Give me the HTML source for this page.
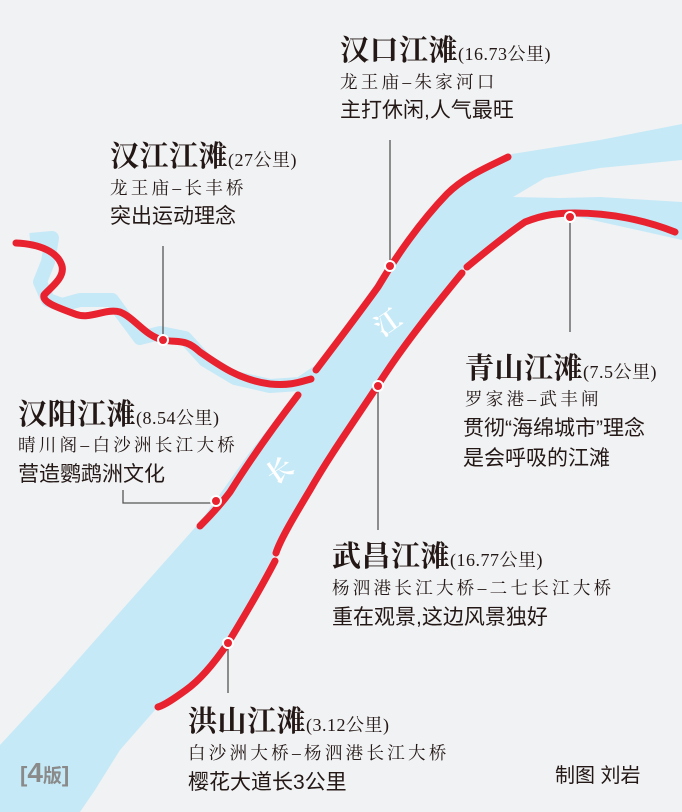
<!DOCTYPE html>
<html><head><meta charset="utf-8"><style>
html,body{margin:0;padding:0;background:#f1f2f4;}
svg{display:block}
.t{font-family:"Liberation Serif","Noto Serif CJK SC",serif;font-weight:bold;font-size:29px;fill:#231815;letter-spacing:0.5px}
.k{font-family:"Liberation Serif","Noto Serif CJK SC",serif;font-weight:normal;font-size:18px;fill:#231815;letter-spacing:0.5px}
.s{font-family:"Liberation Serif","Noto Serif CJK SC",serif;font-size:17.5px;fill:#231815;letter-spacing:3.3px}
.d{font-family:"Liberation Sans","Noto Sans CJK SC",sans-serif;font-size:21px;fill:#231815;letter-spacing:0px}
.r{fill:none;stroke:#e8222f;stroke-width:7;stroke-linecap:round;stroke-linejoin:round}
.l{stroke:#555;stroke-width:1.3;fill:none}
.dot{fill:#e8222f;stroke:#fff;stroke-width:2}
</style></head><body>
<svg width="682" height="812" viewBox="0 0 682 812" xmlns="http://www.w3.org/2000/svg">
<rect width="682" height="812" fill="#f1f2f4"/>
<path fill="#c6e9f7" d="M0,745 L60,680 L120,612 L200,522 L250,452 L300,388 L318,368 L350,322 L390,262 L430,208 L470,178 L512,154 L600,140 L682,124 L682,240 L565,214 L525,220 L465,266 L420,322 L380,385 L330,460 L300,508 L275,553 L250,600 L230,645 L190,690 L155,710 L120,750 L95,790 L80,812 L0,812 Z"/>
<path fill="#f1f2f4" d="M513,197 L545,178 L600,168 L682,160 L682,202 L600,197 L560,198 Z"/>
<path fill="none" stroke="#c6e9f7" stroke-width="14" stroke-linejoin="round" d="M30,240 L52,238 L48,262 L40,282 L48,300 L62,305 L80,300 L112,300 L125,318 L140,338 L160,333 L185,338 L205,360 L235,378 L270,386 L300,384 L318,372"/>
<path class="r" d="M16,243 C40,244 58,252 62,266 C65,278 50,288 44,295 C42,302 56,307 75,314 C90,320 105,308 120,312 C135,318 145,336 163,340 C178,343 185,338 200,352 C220,366 240,380 270,384 C290,386 300,382 311,379"/>
<path class="r" d="M316,370 C335,345 360,312 378,287 C395,258 420,222 447,194 C465,176 490,166 508,157"/>
<path class="r" d="M298,395 C275,425 250,460 230,492 C218,508 208,518 200,526"/>
<path class="r" d="M467,267 C490,248 510,232 525,222 C545,214 560,213 575,213 C610,213 645,220 675,232"/>
<path class="r" d="M462,273 C430,312 400,350 378,385 C355,420 330,455 310,490 C295,515 280,540 276,553"/>
<path class="r" d="M275,561 C260,590 245,615 228,643 C215,662 200,680 186,690 C175,698 165,705 158,707"/>
<line class="l" x1="390" y1="140" x2="390" y2="266"/>
<line class="l" x1="163" y1="246" x2="163" y2="340"/>
<line class="l" x1="570" y1="217" x2="570" y2="332"/>
<polyline class="l" points="123,490 123,503 216,503"/>
<line class="l" x1="378" y1="387" x2="378" y2="530"/>
<line class="l" x1="228" y1="643" x2="228" y2="693"/>
<circle class="dot" cx="390" cy="266" r="5"/>
<circle class="dot" cx="163" cy="340" r="5"/>
<circle class="dot" cx="570" cy="217" r="5"/>
<circle class="dot" cx="216" cy="501" r="5"/>
<circle class="dot" cx="378" cy="386" r="5"/>
<circle class="dot" cx="228" cy="643" r="5"/>
<text transform="translate(393,330) rotate(-35)" font-family="Liberation Serif,Noto Serif CJK SC,serif" font-weight="bold" font-size="26" fill="#fff" text-anchor="middle">江</text>
<text transform="translate(285,478) rotate(-35)" font-family="Liberation Serif,Noto Serif CJK SC,serif" font-weight="bold" font-size="26" fill="#fff" text-anchor="middle">长</text>
<text class="t" x="340" y="60">汉口江滩<tspan class="k">(16.73公里)</tspan></text>
<text class="s" x="340" y="88">龙王庙–朱家河口</text>
<text class="d" x="340" y="117">主打休闲,人气最旺</text>
<text class="t" x="110" y="166">汉江江滩<tspan class="k">(27公里)</tspan></text>
<text class="s" x="110" y="194">龙王庙–长丰桥</text>
<text class="d" x="110" y="223">突出运动理念</text>
<text class="t" x="465" y="378">青山江滩<tspan class="k">(7.5公里)</tspan></text>
<text class="s" x="465" y="405">罗家港–武丰闸</text>
<text class="d" x="463" y="435">贯彻“海绵城市”理念</text>
<text class="d" x="463" y="465">是会呼吸的江滩</text>
<text class="t" x="18" y="424">汉阳江滩<tspan class="k">(8.54公里)</tspan></text>
<text class="s" x="18" y="451">晴川阁–白沙洲长江大桥</text>
<text class="d" x="18" y="481">营造鹦鹉洲文化</text>
<text class="t" x="332" y="566">武昌江滩<tspan class="k">(16.77公里)</tspan></text>
<text class="s" x="332" y="594">杨泗港长江大桥–二七长江大桥</text>
<text class="d" x="332" y="624">重在观景,这边风景独好</text>
<text class="t" x="188" y="731">洪山江滩<tspan class="k">(3.12公里)</tspan></text>
<text class="s" x="188" y="759">白沙洲大桥–杨泗港长江大桥</text>
<text class="d" x="188" y="789">樱花大道长3公里</text>
<text x="20" y="782" font-family="Liberation Sans,Noto Sans CJK SC,sans-serif" font-weight="bold" font-size="22" fill="#8a8a8a">[<tspan font-size="28">4</tspan><tspan font-size="19">版</tspan>]</text>
<text x="555" y="782" font-family="Liberation Sans,Noto Sans CJK SC,sans-serif" font-size="20" fill="#231815">制图 刘岩</text>
</svg>
</body></html>
